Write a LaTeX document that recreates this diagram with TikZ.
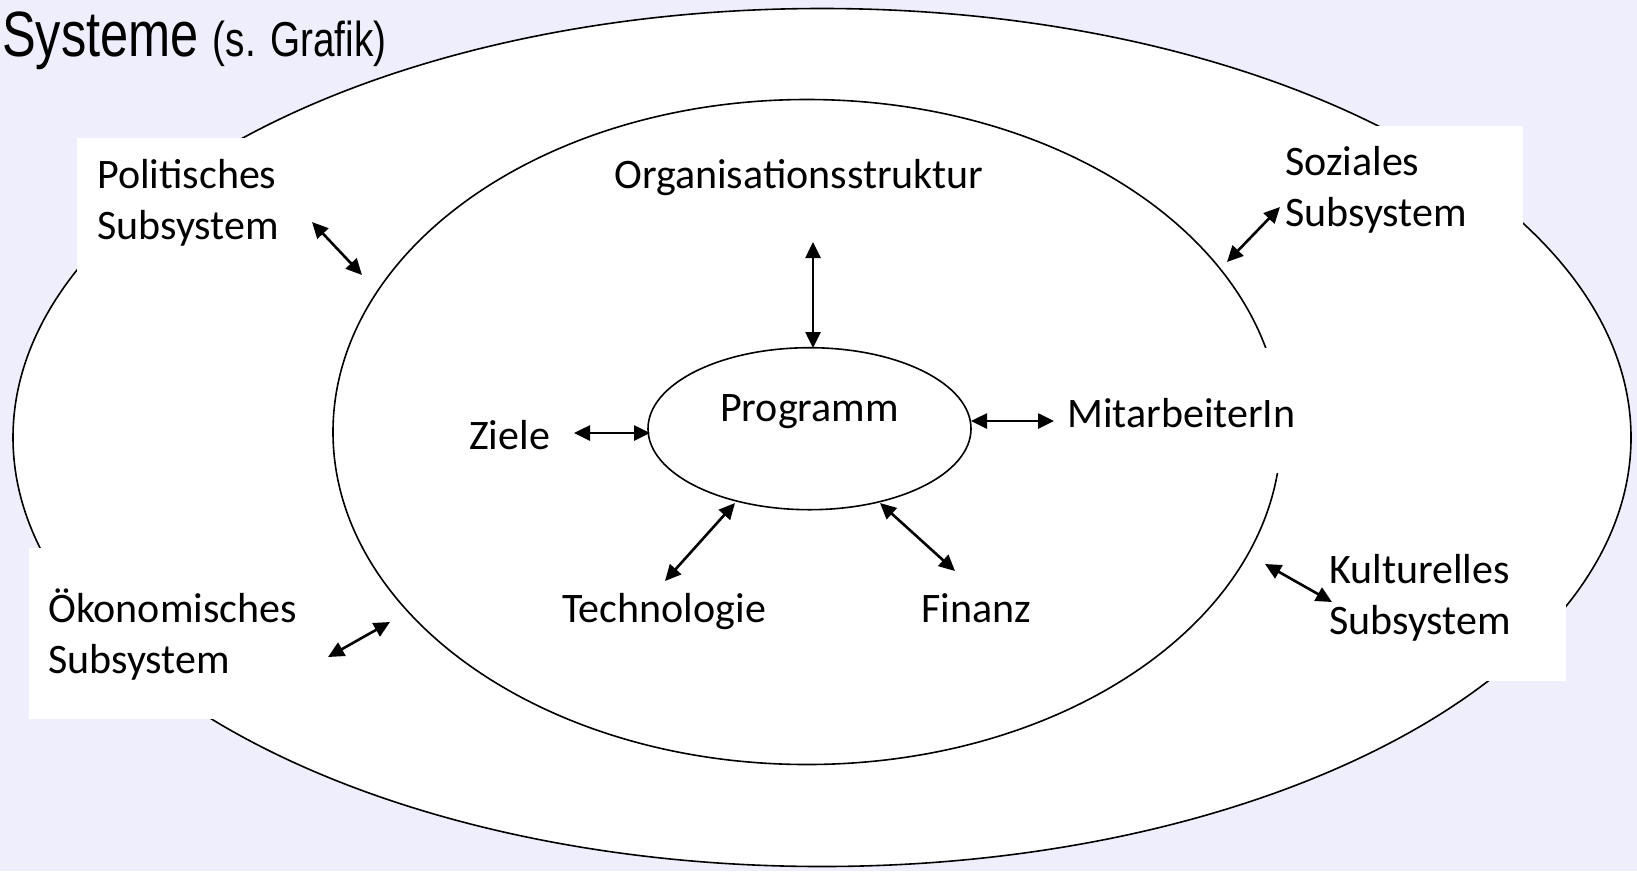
\documentclass[tikz,border=0pt]{standalone}
\usepackage{fontspec}
\setmainfont{Carlito}
\newfontfamily\titlefont[FakeStretch=0.79]{Liberation Sans}
\usetikzlibrary{arrows.meta,shapes.geometric}
\definecolor{pagebg}{RGB}{238,238,252}

\begin{document}
\begin{tikzpicture}[x=1pt,y=-1pt,
  ring/.style={draw=black,line width=1.6pt},
  cover/.style={fill=white,draw=none},
  lbl/.style={anchor=base west,inner sep=0pt,font=\fontsize{42}{51}\selectfont},
  tipb/.tip={Triangle[length=16pt,width=15pt]},
  link/.style={tipb-tipb,line width=2.6pt}
]
\useasboundingbox (0,0) rectangle (1637,871);
\fill[pagebg] (0,0) rectangle (1637,871);

% nested system rings
\draw[ring,fill=white] (822,437.5) ellipse [x radius=809,y radius=429];
\draw[ring] (807,432) ellipse [x radius=474,y radius=332.5];
\node[ring,ellipse,minimum width=323pt,minimum height=162pt,inner sep=0pt] (prog) at (809.5,428.7) {};

% white cards behind the labels
\fill[cover] (77,138) rectangle (315,273);
\fill[cover] (1270,126) rectangle (1523,224);
\fill[cover] (29,548) rectangle (325,719);
\fill[cover] (1320,540) rectangle (1566,681);
\fill[cover] (1062,348) rectangle (1305,473);

% heading
\node[anchor=base west,inner sep=0pt] (title) at (2,56)
  {\titlefont\fontsize{64}{70}\selectfont Systeme \fontsize{49}{55}\selectfont(s. Grafik)};

% labels
\node[lbl] (org) at (614,188) {Organisationsstruktur};
\node[lbl] (progtext) at (720,421) {Programm};
\node[lbl] (ziele) at (469,449) {Ziele};
\node[lbl] (mit) at (1067,427) {MitarbeiterIn};
\node[lbl] (tech) at (562,622) {Technologie};
\node[lbl] (fin) at (921,622) {Finanz};
\node[lbl] (pol) at (97,188) {\begin{tabular}[t]{@{}l@{}}Politisches\\Subsystem\end{tabular}};
\node[lbl] (soz) at (1285,175) {\begin{tabular}[t]{@{}l@{}}Soziales\\Subsystem\end{tabular}};
\node[lbl] (oek) at (48,622) {\begin{tabular}[t]{@{}l@{}}Ökonomisches\\Subsystem\end{tabular}};
\node[lbl] (kul) at (1329,583) {\begin{tabular}[t]{@{}l@{}}Kulturelles\\Subsystem\end{tabular}};

% arrow end points
\coordinate (polA) at (312,222);  \coordinate (polB) at (362,275);
\coordinate (sozA) at (1280,207); \coordinate (sozB) at (1227,262);
\coordinate (orgA) at (813,242);  \coordinate (orgB) at (813,348);
\coordinate (zieA) at (574,433);  \coordinate (zieB) at (650,433);
\coordinate (mitA) at (971,421);  \coordinate (mitB) at (1054,421);
\coordinate (tecA) at (735,503);  \coordinate (tecB) at (665,581);
\coordinate (finA) at (880,503);  \coordinate (finB) at (955,571);
\coordinate (oekA) at (328,657);  \coordinate (oekB) at (390,622);
\coordinate (kulA) at (1265,564); \coordinate (kulB) at (1332,602);

% two-way relations
\draw[link] (polA) -- (polB);
\draw[link] (sozA) -- (sozB);
\draw[link] (orgA) -- (orgB);
\draw[link] (zieA) -- (zieB);
\draw[link] (mitA) -- (mitB);
\draw[link] (tecA) -- (tecB);
\draw[link] (finA) -- (finB);
\draw[link] (oekA) -- (oekB);
\draw[link] (kulA) -- (kulB);
\end{tikzpicture}
\end{document}
